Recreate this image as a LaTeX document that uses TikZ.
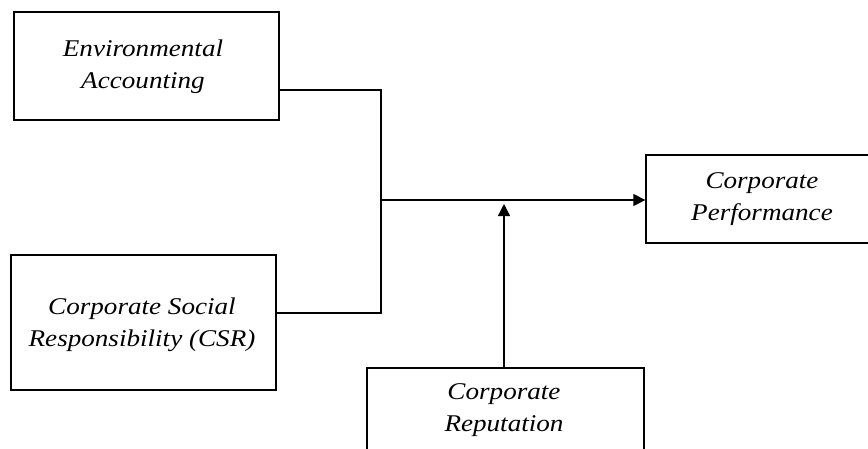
\documentclass[tikz,border=0pt]{standalone}
\usepackage{fontspec}
\setmainfont{Liberation Serif}[FakeStretch=1.13]
\usetikzlibrary{arrows.meta}
\begin{document}
\begin{tikzpicture}[x=1pt,y=-1pt,
  box/.style={draw, line width=1.3pt, rectangle, inner sep=0pt},
  lbl/.style={align=center, font=\fontsize{24}{32}\selectfont\itshape, inner sep=0pt},
  conn/.style={line width=1.3pt},
  arr/.style={line width=1.3pt, -{Triangle[length=12pt,width=12pt]}}]
\useasboundingbox (0,0) rectangle (868,448);
\clip (0,0) rectangle (868,448);
\node[box, minimum width=265pt, minimum height=108pt] (ea) at (146.5,66) {};
\node[lbl] (eat) at (143,67) {Environmental\\Accounting};
\node[box, minimum width=265pt, minimum height=135pt] (csr) at (143.5,322.5) {};
\node[lbl] (csrt) at (142,325) {Corporate Social\\Responsibility (CSR)};
\node[box, minimum width=240pt, minimum height=88pt] (cp) at (766,199) {};
\node[lbl] (cpt) at (762,199) {Corporate\\Performance};
\node[box, minimum width=277pt, minimum height=100pt] (cr) at (505.5,418) {};
\node[lbl] (crt) at (504,410) {Corporate\\Reputation};
\coordinate (j1) at (381,90);
\coordinate (j2) at (381,313);
\coordinate (jm) at (381,200);
\coordinate (tip) at (504,204);
\draw[conn] (ea.east |- j1) -- (j1) -- (j2) -- (csr.east |- j2);
\draw[arr] (jm) -- (cp.west |- jm);
\draw[arr] (cr.north -| tip) -- (tip);
\end{tikzpicture}
\end{document}
